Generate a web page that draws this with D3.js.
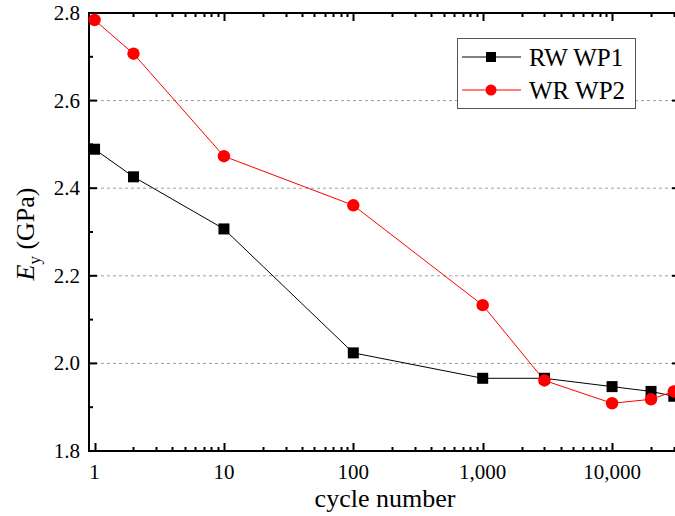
<!DOCTYPE html>
<html>
<head>
<meta charset="utf-8">
<script src="https://cdn.jsdelivr.net/npm/d3@7"></script>
<style>
  body { margin: 0; background: #fff; }
  svg { display: block; }
</style>
</head>
<body>
<div id="chart"></div>
<script>
// data
const cycles = [1, 2, 10, 100, 1000, 3000, 10000, 20000, 30000];
const rwWp1 = [2.489, 2.426, 2.307, 2.024, 1.966, 1.966, 1.947, 1.936, 1.925];
const wrWp2 = [2.784, 2.707, 2.473, 2.361, 2.133, 1.961, 1.909, 1.918, 1.936];
const yTicks = [1.8, 2.0, 2.2, 2.4, 2.6, 2.8];
const gridValues = [2.0, 2.2, 2.4, 2.6];
const xMajor = [1, 10, 100, 1000, 10000];
const seriesNames = ["RW WP1", "WR WP2"];
const seriesColors = ["#000000", "#ff0000"];

const width = 675, height = 516;
const plotLeft = 89, plotRight = 680, plotTop = 13, plotBottom = 451;
const serif = "Times New Roman, Times, Liberation Serif, DejaVu Serif, serif";

const svg = d3.select("#chart").append("svg")
  .attr("width", width).attr("height", height)
  .style("font-family", serif);

// x axis in log scale, 1 sits a little right of the left axis
const x = d3.scaleLog().domain([0.906, 33500]).range([plotLeft, plotRight]);
const y = d3.scaleLinear().domain([1.8, 2.8]).range([plotBottom, plotTop]);

// dashed gridlines
svg.append("g").selectAll("line")
  .data(gridValues)
  .enter().append("line")
  .attr("x1", plotLeft).attr("x2", plotRight)
  .attr("y1", d => y(d)).attr("y2", d => y(d))
  .attr("stroke", "#a0a0a0")
  .attr("stroke-width", 1)
  .attr("stroke-dasharray", "3,3");

// minor x ticks 2..9 per decade
const xMinor = [];
[1, 10, 100, 1000, 10000].forEach(dec => {
  for (let k = 2; k <= 9; k++) {
    const v = dec * k;
    if (v <= 33500) xMinor.push(v);
  }
});
const yMinor = [1.9, 2.1, 2.3, 2.5, 2.7];

const axes = svg.append("g").attr("stroke", "#000");

// bottom & top axis lines
axes.append("line").attr("x1", plotLeft).attr("x2", plotRight + 2)
  .attr("y1", plotBottom).attr("y2", plotBottom).attr("stroke-width", 2);
axes.append("line").attr("x1", plotLeft).attr("x2", plotRight + 2)
  .attr("y1", plotTop).attr("y2", plotTop).attr("stroke-width", 2);
// left & right axis lines
axes.append("line").attr("x1", plotLeft).attr("x2", plotLeft)
  .attr("y1", plotTop - 1).attr("y2", plotBottom + 1).attr("stroke-width", 2);
axes.append("line").attr("x1", plotRight).attr("x2", plotRight)
  .attr("y1", plotTop - 1).attr("y2", plotBottom + 1).attr("stroke-width", 2);

// x ticks, inward on bottom and top
[[xMajor, 8], [xMinor, 4]].forEach(([vals, len]) => {
  vals.forEach(v => {
    const px = Math.round(x(v)) + 0.5;
    axes.append("line").attr("x1", px).attr("x2", px)
      .attr("y1", plotBottom).attr("y2", plotBottom - len).attr("stroke-width", 2);
    axes.append("line").attr("x1", px).attr("x2", px)
      .attr("y1", plotTop).attr("y2", plotTop + len).attr("stroke-width", 2);
  });
});

// y ticks, inward on left and right
[[yTicks, 8], [yMinor, 4]].forEach(([vals, len]) => {
  vals.forEach(v => {
    const py = y(v);
    axes.append("line").attr("x1", plotLeft).attr("x2", plotLeft + len)
      .attr("y1", py).attr("y2", py).attr("stroke-width", 2);
    axes.append("line").attr("x1", plotRight).attr("x2", plotRight - len)
      .attr("y1", py).attr("y2", py).attr("stroke-width", 2);
  });
});

// tick labels
svg.append("g").selectAll("text")
  .data(yTicks)
  .enter().append("text")
  .attr("x", plotLeft - 9)
  .attr("y", d => y(d) + 7)
  .attr("text-anchor", "end")
  .attr("font-size", 21)
  .text(d => d.toFixed(1));

svg.append("g").selectAll("text")
  .data(xMajor)
  .enter().append("text")
  .attr("x", d => x(d))
  .attr("y", 479)
  .attr("text-anchor", "middle")
  .attr("font-size", 21)
  .text(d => d3.format(",")(d));

// axis titles
svg.append("text")
  .attr("x", 385)
  .attr("y", 507)
  .attr("text-anchor", "middle")
  .attr("font-size", 26)
  .text("cycle number");

const yTitle = svg.append("text")
  .attr("transform", `translate(34, 234) rotate(-90)`)
  .attr("text-anchor", "middle")
  .attr("font-size", 26);
yTitle.append("tspan").attr("font-style", "italic").text("E");
yTitle.append("tspan").attr("font-size", 17).attr("dy", 6).text("y");
yTitle.append("tspan").attr("dy", -6).text(" (GPa)");

// series
const series = [rwWp1, wrWp2];
const line = d3.line()
  .x(d => x(d[0]))
  .y(d => y(d[1]));

series.forEach((vals, i) => {
  const pts = cycles.map((c, j) => [c, vals[j]]);
  svg.append("path")
    .datum(pts)
    .attr("d", line)
    .attr("fill", "none")
    .attr("stroke", seriesColors[i])
    .attr("stroke-width", 1);
});

// markers: squares for RW, circles for WR
svg.append("g").selectAll("rect")
  .data(cycles.map((c, j) => [c, rwWp1[j]]))
  .enter().append("rect")
  .attr("x", d => x(d[0]) - 5.5)
  .attr("y", d => y(d[1]) - 5.5)
  .attr("width", 11).attr("height", 11)
  .attr("fill", "#000");

svg.append("g").selectAll("circle")
  .data(cycles.map((c, j) => [c, wrWp2[j]]))
  .enter().append("circle")
  .attr("cx", d => x(d[0]))
  .attr("cy", d => y(d[1]))
  .attr("r", 6.2)
  .attr("fill", "#ff0000");

// legend
const legend = svg.append("g");
legend.append("rect")
  .attr("x", 457.5).attr("y", 38.5)
  .attr("width", 178).attr("height", 70)
  .attr("fill", "#fff")
  .attr("stroke", "#555")
  .attr("stroke-width", 1);

seriesNames.forEach((name, i) => {
  const ly = 57 + i * 33;
  legend.append("line")
    .attr("x1", 462).attr("x2", 521)
    .attr("y1", ly).attr("y2", ly)
    .attr("stroke", seriesColors[i]).attr("stroke-width", 1);
  if (i === 0) {
    legend.append("rect")
      .attr("x", 491 - 5).attr("y", ly - 5)
      .attr("width", 10).attr("height", 10)
      .attr("fill", seriesColors[i]);
  } else {
    legend.append("circle")
      .attr("cx", 491).attr("cy", ly).attr("r", 5.5)
      .attr("fill", seriesColors[i]);
  }
  legend.append("text")
    .attr("x", 529).attr("y", ly + 9)
    .attr("font-size", 25)
    .text(name);
});
</script>
</body>
</html>
